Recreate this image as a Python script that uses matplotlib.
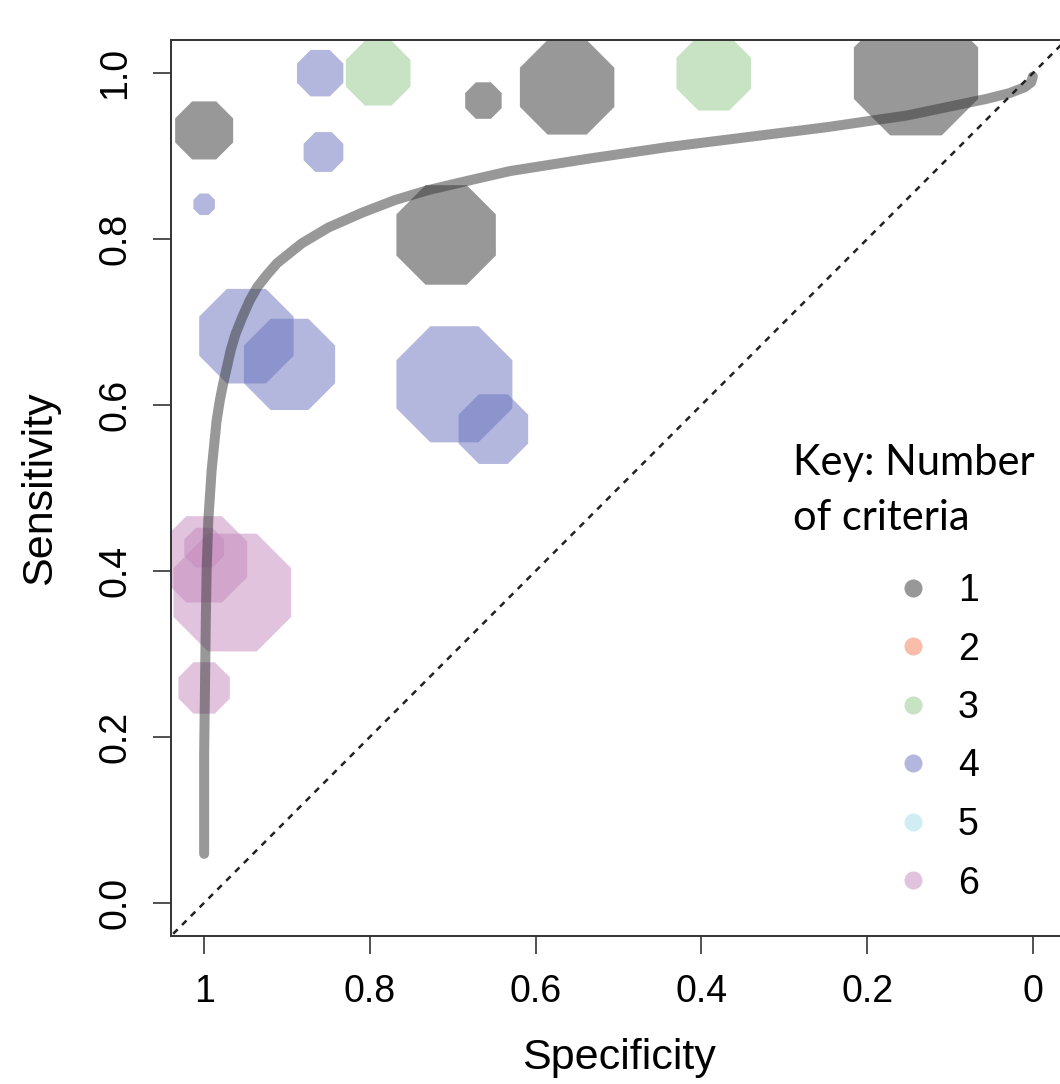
import matplotlib
matplotlib.use("Agg")
import matplotlib.pyplot as plt
import numpy as np
from matplotlib.lines import Line2D
from matplotlib.patches import RegularPolygon

plt.rcParams["font.family"] = ["Liberation Sans", "DejaVu Sans"]

# ----- Données ----- #
spec = [1.000, 0.663, 0.562, 0.141, 0.708,
        0.790, 0.385,
        0.860, 0.856, 1.000, 0.949, 0.897, 0.698, 0.651,
        1.000, 1.000, 0.966, 1.000]
sens = [0.931, 0.967, 0.983, 1.000, 0.805,
        1.000, 1.000,
        1.000, 0.905, 0.842, 0.683, 0.649, 0.625, 0.571,
        0.414, 0.428, 0.374, 0.259]
# taille des bulles (demi-largeur, en unités de données)
bubble = [0.035, 0.022, 0.057, 0.075, 0.060,
          0.039, 0.045,
          0.028, 0.024, 0.013, 0.057, 0.055, 0.070, 0.042,
          0.052, 0.024, 0.071, 0.031]
criteria = [1, 1, 1, 1, 1,
            3, 3,
            4, 4, 4, 4, 4, 4, 4,
            6, 6, 6, 6]

# courbe SROC
curve_spec = [1.000, 1.000, 1.000, 0.999, 0.998, 0.997, 0.995, 0.991, 0.988,
              0.985, 0.981, 0.977, 0.972, 0.968, 0.962, 0.954, 0.945, 0.936,
              0.925, 0.912, 0.882, 0.850, 0.809, 0.770, 0.730, 0.679, 0.631,
              0.536, 0.440, 0.344, 0.248, 0.152, 0.056, 0.028, 0.010, 0.002,
              0.000]
curve_sens = [0.059, 0.099, 0.180, 0.259, 0.340, 0.400, 0.461, 0.521, 0.551,
              0.581, 0.606, 0.626, 0.648, 0.666, 0.686, 0.706, 0.726, 0.742,
              0.756, 0.771, 0.795, 0.814, 0.832, 0.847, 0.859, 0.871, 0.882,
              0.897, 0.911, 0.923, 0.935, 0.949, 0.969, 0.976, 0.983, 0.989,
              0.996]

legend_labels = ["1", "2", "3", "4", "5", "6"]
colors = {1: "#333333", 2: "#f57d55", 3: "#91c989", 4: "#6971bd",
          5: "#a5ddeb", 6: "#c589bd"}
ALPHA = 0.5

# ----- Figure ----- #
W, H = 1060, 1084
fig = plt.figure(figsize=(W / 100, H / 100), dpi=100)
ax = fig.add_axes([171 / W, 1 - 936 / H, 895 / W, 896 / H])
ax.set_xlim(1.04, -0.04)
ax.set_ylim(-0.04, 1.04)

for x, y, r, c in zip(spec, sens, bubble, criteria):
    ax.add_patch(RegularPolygon((x, y), numVertices=8,
                                radius=r / np.cos(np.pi / 8),
                                orientation=np.pi / 8,
                                facecolor=colors[c], alpha=ALPHA,
                                edgecolor="none"))

ax.plot(curve_spec, curve_sens, color="#333333", alpha=ALPHA, lw=7.2,
        solid_capstyle="round", solid_joinstyle="round")
ax.axline((0, 1), (1, 0), color="#222222", lw=1.8, ls=(0, (2.5, 2.5)))

# axes style R
ax.set_xticks([1, 0.8, 0.6, 0.4, 0.2, 0])
ax.set_xticklabels(["1", "0.8", "0.6", "0.4", "0.2", "0"])
ax.set_yticks([0, 0.2, 0.4, 0.6, 0.8, 1.0])
ax.set_yticklabels(["0.0", "0.2", "0.4", "0.6", "0.8", "1.0"],
                   rotation=90, va="center")
ax.tick_params(length=13, width=1.2, color="#333333", labelsize=27,
               pad=14)
for s in ax.spines.values():
    s.set_linewidth(1.4)
    s.set_color("#333333")

ax.set_xlabel("Specificity", fontsize=31)
ax.set_ylabel("Sensitivity", fontsize=31)
ax.xaxis.set_label_coords(0.5, -0.114)
ax.yaxis.set_label_coords(-0.124, 0.5)

# ----- Légende ----- #
handles = [Line2D([], [], marker="o", ls="", ms=13, color=colors[k],
                  alpha=ALPHA, markeredgewidth=0)
           for k in range(1, 7)]
fig.legend(handles, legend_labels, loc="upper left",
           bbox_to_anchor=(898 / W, 1 - 573 / H), frameon=False,
           fontsize=27, handlelength=0.8, handletextpad=0.8,
           labelspacing=0.6, borderpad=0, borderaxespad=0)
fig.text(793 / W, 1 - 444 / H, "Key: Number\nof criteria", family="Lato",
         fontsize=30, va="top", ha="left", linespacing=1.55)

fig.savefig("out.png", dpi=100)
